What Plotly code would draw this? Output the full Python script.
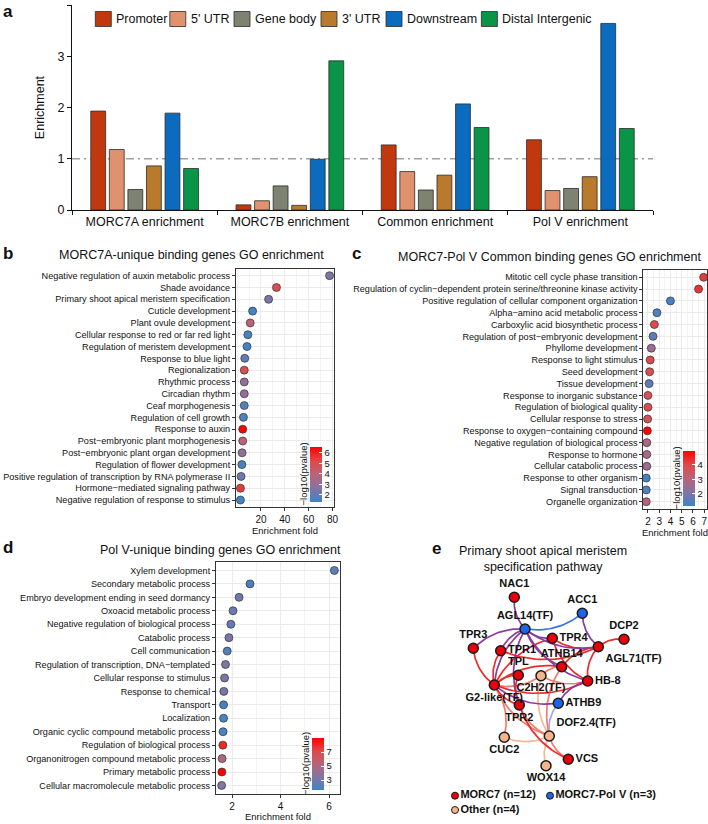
import math
import plotly.graph_objects as go

W, H = 708, 824

# ---------------- DATA ----------------
region_names = ["Promoter", "5' UTR", "Gene body", "3' UTR", "Downstream", "Distal Intergenic"]
region_colors = ["#C1380E", "#E0916E", "#7E8270", "#B97A2E", "#0B6CBF", "#0A9447"]
groups = ["MORC7A enrichment", "MORC7B enrichment", "Common enrichment", "Pol V enrichment"]
promoter = [1.93, 0.10, 1.27, 1.37]
utr5 = [1.18, 0.18, 0.75, 0.38]
gene_body = [0.40, 0.47, 0.39, 0.42]
utr3 = [0.86, 0.09, 0.68, 0.65]
downstream = [1.89, 0.99, 2.07, 3.64]
distal = [0.81, 2.91, 1.61, 1.59]
a_ticks = [0, 1, 2, 3, 4]

b_terms = ["Negative regulation of auxin metabolic process", "Shade avoidance",
           "Primary shoot apical meristem specification", "Cuticle development",
           "Plant ovule development", "Cellular response to red or far red light",
           "Regulation of meristem development", "Response to blue light", "Regionalization",
           "Rhythmic process", "Circadian rhythm", "Ceaf morphogenesis", "Regulation of cell growth",
           "Response to auxin", "Post\u2212embryonic plant morphogenesis",
           "Post\u2212embryonic plant organ development", "Regulation of flower development",
           "Positive regulation of transcription by RNA polymerase II",
           "Hormone\u2212mediated signaling pathway", "Negative regulation of response to stimulus"]
b_fold = [77.5, 33, 26.4, 13, 11, 9, 8.3, 6.4, 6, 6, 6, 6, 5.3, 4.7, 4.7, 4.2, 4.0, 3.3, 2.8, 2.8]
b_logp = [2.6, 5.0, 2.5, 1.5, 4.0, 1.5, 1.4, 2.0, 5.0, 3.0, 3.0, 1.8, 1.6, 6.5, 4.0, 3.0, 1.5, 2.2, 5.5, 1.4]
b_xticks = [20, 40, 60, 80]
b_cticks = [2, 3, 4, 5, 6]

c_terms = ["Mitotic cell cycle phase transition",
           "Regulation of cyclin\u2212dependent protein serine/threonine kinase activity",
           "Positive regulation of cellular component organization",
           "Alpha\u2212amino acid metabolic process", "Carboxylic acid biosynthetic process",
           "Regulation of post\u2212embryonic development", "Phyllome development",
           "Response to light stimulus", "Seed development", "Tissue development",
           "Response to inorganic substance", "Regulation of biological quality",
           "Cellular response to stress", "Response to oxygen\u2212containing compound",
           "Negative regulation of biological process", "Response to hormone",
           "Cellular catabolic process", "Response to other organism", "Signal transduction",
           "Organelle organization"]
c_fold = [6.95, 6.5, 4.0, 2.8, 2.57, 2.45, 2.3, 2.2, 2.15, 2.1, 2.0, 2.0, 1.97, 1.95, 1.9, 1.9, 1.9, 1.85, 1.85, 1.85]
c_logp = [4.2, 4.3, 1.3, 1.4, 4.0, 1.6, 2.6, 4.0, 3.8, 1.6, 3.7, 3.8, 3.7, 4.95, 2.8, 2.8, 2.6, 1.3, 1.5, 3.0]
c_xticks = [2, 3, 4, 5, 6, 7]
c_cticks = [2, 3, 4]

d_terms = ["Xylem development", "Secondary metabolic process",
           "Embryo development ending in seed dormancy", "Oxoacid metabolic process",
           "Negative regulation of biological process", "Catabolic process", "Cell communication",
           "Regulation of transcription, DNA\u2212templated", "Cellular response to stimulus",
           "Response to chemical", "Transport", "Localization",
           "Organic cyclic compound metabolic process", "Regulation of biological process",
           "Organonitrogen compound metabolic process", "Primary metabolic process",
           "Cellular macromolecule metabolic process"]
d_fold = [6.22, 2.74, 2.29, 2.04, 1.95, 1.87, 1.80, 1.73, 1.69, 1.66, 1.65, 1.65, 1.63, 1.62, 1.59, 1.58, 1.57]
d_logp = [2.5, 2.0, 2.8, 2.8, 2.6, 3.2, 2.2, 3.3, 3.2, 3.1, 1.8, 1.8, 1.9, 8.0, 5.0, 9.0, 3.5]
d_xticks = [2, 4, 6]
d_cticks = [3, 5, 7]

net_nodes = ["NAC1", "ACC1", "AGL14(TF)", "TPR3", "TPR1", "TPR4", "DCP2", "AGL71(TF)", "ATHB14",
             "TPL", "C2H2(TF)", "HB-8", "G2-like(TF)", "ATHB9", "TPR2", "DOF2.4(TF)", "CUC2", "VCS", "WOX14"]
net_group = ["MORC7", "Pol V", "Pol V", "MORC7", "MORC7", "MORC7", "MORC7", "MORC7", "MORC7",
             "MORC7", "Other", "MORC7", "MORC7", "Pol V", "MORC7", "Other", "Other", "MORC7", "Other"]
# network layout coordinates
net_x = [514.3, 582.3, 525.0, 473.3, 500.7, 552.3, 624.0, 598.3, 561.7, 518.3, 541.0, 587.7, 494.3,
         558.3, 519.3, 549.3, 504.3, 568.3, 546.0]
net_y = [597.3, 613.3, 629.0, 648.3, 650.7, 638.3, 639.3, 646.7, 666.7, 675.3, 675.7, 681.0, 685.0,
         703.3, 705.0, 736.0, 737.3, 759.3, 765.7]
net_edges = [("NAC1", "AGL14(TF)"), ("AGL14(TF)", "ACC1"), ("ACC1", "AGL71(TF)"),
             ("AGL14(TF)", "TPR3"), ("AGL14(TF)", "TPR1"), ("AGL14(TF)", "TPR4"),
             ("AGL14(TF)", "AGL71(TF)"), ("AGL14(TF)", "HB-8"), ("AGL14(TF)", "TPR2"),
             ("AGL14(TF)", "G2-like(TF)"), ("AGL14(TF)", "ATHB14"),
             ("TPR3", "G2-like(TF)"), ("TPR1", "G2-like(TF)"), ("TPR4", "G2-like(TF)"),
             ("TPR4", "AGL71(TF)"), ("TPR1", "AGL71(TF)"), ("DCP2", "AGL71(TF)"),
             ("AGL71(TF)", "ATHB14"), ("AGL71(TF)", "HB-8"), ("ATHB14", "G2-like(TF)"),
             ("TPL", "G2-like(TF)"), ("TPL", "TPR2"), ("G2-like(TF)", "TPR2"),
             ("G2-like(TF)", "HB-8"), ("G2-like(TF)", "ATHB9"), ("HB-8", "ATHB9"),
             ("TPR4", "HB-8"), ("ATHB14", "C2H2(TF)"), ("G2-like(TF)", "C2H2(TF)"),
             ("C2H2(TF)", "HB-8"), ("TPR2", "DOF2.4(TF)"), ("TPR2", "VCS"),
             ("G2-like(TF)", "DOF2.4(TF)"), ("ATHB14", "DOF2.4(TF)"), ("ATHB9", "DOF2.4(TF)"),
             ("DOF2.4(TF)", "VCS"), ("CUC2", "DOF2.4(TF)"), ("DOF2.4(TF)", "WOX14"),
             ("CUC2", "G2-like(TF)"), ("C2H2(TF)", "DOF2.4(TF)")]
net_label_pos = ["top center", "top center", "top center", "top center", "middle right", "middle right",
                 "top center", "bottom right", "top center", "top center", "bottom center",
                 "middle right", "bottom center", "middle right", "bottom center", "top right",
                 "bottom center", "middle right", "bottom center"]
legend_e = ["MORC7 (n=12)", "MORC7-Pol V (n=3)", "Other (n=4)"]

# ---------------- STYLE ----------------
FONT = "Liberation Sans, Arial, sans-serif"
group_color = {"MORC7": "#E8000B", "Pol V": "#1E64E6", "Other": "#F4B48C"}
edge_color = {("MORC7", "MORC7"): "#EE2A2A", ("MORC7", "Pol V"): "#8E3B9C",
              ("Pol V", "Pol V"): "#3B74E2", ("MORC7", "Other"): "#F27C6C",
              ("Other", "Other"): "#F7B894", ("Other", "Pol V"): "#9FA6E3"}
cscale = [[0, "#3D85C6"], [0.25, "#8474A2"], [0.5, "#B8647A"], [0.75, "#E04848"], [1, "#FF0000"]]


def px(x):
    return x / W


def py(y):
    return 1 - y / H


fig = go.Figure()

# ---------------- PANEL A ----------------
series = [promoter, utr5, gene_body, utr3, downstream, distal]
for name, col, vals in zip(region_names, region_colors, series):
    fig.add_trace(go.Bar(x=groups, y=vals, name=name, marker=dict(color=col, line=dict(color="#2b2b2b", width=0.8)),
                         xaxis="x", yaxis="y", showlegend=False))

fig.add_shape(type="line", xref="x domain", yref="y", x0=0, x1=1, y0=1, y1=1,
              line=dict(color="#A0A0A0", width=1.3, dash="8px,4px,2px,4px"), layer="below")

leg_left = [95.3, 169.8, 234, 321, 386, 481.4]
for name, col, lx in zip(region_names, region_colors, leg_left):
    fig.add_shape(type="rect", xref="paper", yref="paper", x0=px(lx), x1=px(lx + 16), y0=py(26.5), y1=py(11.5),
                  fillcolor=col, line=dict(color="#2b2b2b", width=0.8))
    fig.add_annotation(x=px(lx + 19), y=py(19), xref="paper", yref="paper", text=name, showarrow=False,
                       xanchor="left", yanchor="middle", font=dict(size=12.5, color="#111"))

# ---------------- GO PANELS ----------------
def go_panel(idx, terms, fold, logp, xticks, cticks, dom_x, dom_y, minor_dt, cb):
    xa = "x%d" % idx
    ya = "y%d" % idx
    cmin, cmax = cb[3], cb[4]
    fig.add_trace(go.Scatter(
        x=fold, y=terms, mode="markers", xaxis=xa, yaxis=ya, showlegend=False, cliponaxis=False,
        marker=dict(size=8, color=logp, colorscale=cscale, cmin=cmin, cmax=cmax,
                    line=dict(color="#333", width=0.7),
                    colorbar=dict(x=px(cb[0]), xanchor="left", y=py(cb[1]), yanchor="middle",
                                  len=cb[2], lenmode="pixels", thickness=12, thicknessmode="pixels",
                                  outlinewidth=0, tickvals=cticks, ticks="inside", ticklen=3,
                                  tickcolor="white", tickfont=dict(size=9.5, color="#111"),
                                  xpad=0, ypad=0, bgcolor="rgba(0,0,0,0)"))))
    span = max(fold) - min(fold)
    lo, hi = min(fold) - 0.05 * span, max(fold) + 0.05 * span
    n = len(terms)
    fig.update_layout(**{
        "xaxis%d" % idx: dict(domain=[px(dom_x[0]), px(dom_x[1])], anchor=ya, range=[lo, hi],
                              tickvals=xticks, showgrid=True, gridcolor="#EBEBEB", gridwidth=0.8,
                              minor=dict(dtick=minor_dt, showgrid=True, gridcolor="#F3F3F3", gridwidth=0.6),
                              showline=True, mirror=True, linecolor="#333", linewidth=1,
                              ticks="outside", ticklen=3, tickcolor="#333", zeroline=False,
                              automargin=False, tickfont=dict(size=10, color="#111"),
                              title=dict(text="Enrichment fold", font=dict(size=9.5, color="#111"), standoff=0)),
        "yaxis%d" % idx: dict(domain=[py(dom_y[1]), py(dom_y[0])], anchor=xa, type="category",
                              categoryorder="array", categoryarray=terms, range=[n - 0.4, -0.6],
                              showgrid=True, gridcolor="#EBEBEB", gridwidth=0.8,
                              showline=True, mirror=True, linecolor="#333", linewidth=1,
                              ticks="outside", ticklen=3, tickcolor="#333", automargin=False,
                              tickfont=dict(size=9.1, color="#111")),
    })
    fig.add_shape(type="rect", xref="paper", yref="paper", x0=px(cb[0] - 14), x1=px(cb[0] + 24),
                  y0=py(cb[1] + cb[2] / 2 + 2), y1=py(cb[1] - cb[2] / 2 - 2),
                  fillcolor="white", line=dict(width=0), layer="between")
    fig.add_annotation(x=px(cb[0] - 7), y=py(cb[1]), xref="paper", yref="paper",
                       text="\u2212log10(pvalue)", textangle=-90, showarrow=False,
                       font=dict(size=9.5, color="#111"), xanchor="center", yanchor="middle")


go_panel(2, b_terms, b_fold, b_logp, b_xticks, b_cticks, (236, 334), (268.6, 507.1), 10,
         (310, 474.5, 55, 1.33, 6.57))
go_panel(3, c_terms, c_fold, c_logp, c_xticks, c_cticks, (643.4, 706.5), (270.2, 508.8), 0.5,
         (683, 478.4, 55, 1.17, 4.97))
go_panel(4, d_terms, d_fold, d_logp, d_xticks, d_cticks, (216, 340), (562.4, 793.5), 1,
         (312, 764, 52, 1.6, 9.0))

# ---------------- PANEL E (network) ----------------
pos = {n: (x, y) for n, x, y in zip(net_nodes, net_x, net_y)}
grp = dict(zip(net_nodes, net_group))
edge_traces = {}
for a, b in net_edges:
    key = tuple(sorted((grp[a], grp[b])))
    (x0, y0), (x2, y2) = pos[a], pos[b]
    dx, dy = x2 - x0, y2 - y0
    cx = (x0 + x2) / 2 - dy * 0.22
    cy = (y0 + y2) / 2 + dx * 0.22
    xs, ys = edge_traces.setdefault(key, ([], []))
    for i in range(21):
        t = i / 20
        xs.append((1 - t) ** 2 * x0 + 2 * (1 - t) * t * cx + t ** 2 * x2)
        ys.append((1 - t) ** 2 * y0 + 2 * (1 - t) * t * cy + t ** 2 * y2)
    xs.append(None)
    ys.append(None)
order = [("Other", "Other"), ("Other", "Pol V"), ("MORC7", "Other"), ("MORC7", "MORC7"),
         ("MORC7", "Pol V"), ("Pol V", "Pol V")]
for key in order:
    if key in edge_traces:
        xs, ys = edge_traces[key]
        fig.add_trace(go.Scatter(x=xs, y=ys, mode="lines", line=dict(color=edge_color[key], width=1.7),
                                 xaxis="x5", yaxis="y5", showlegend=False, hoverinfo="skip"))
fig.add_trace(go.Scatter(x=net_x, y=net_y, mode="markers+text", text=net_nodes, textposition=net_label_pos,
                         textfont=dict(size=11, color="#111"),
                         texttemplate="<b>%{text}</b>",
                         marker=dict(size=10, color=[group_color[g] for g in net_group],
                                     line=dict(color="#1a1a1a", width=1.5)),
                         xaxis="x5", yaxis="y5", showlegend=False, cliponaxis=False))
leg_x = [455, 550, 455]
leg_y = [795.7, 795.7, 810]
leg_c = [group_color["MORC7"], group_color["Pol V"], group_color["Other"]]
fig.add_trace(go.Scatter(x=leg_x, y=leg_y, mode="markers+text", text=["<b>%s</b>" % t for t in legend_e],
                         textposition="middle right", textfont=dict(size=11, color="#111"),
                         marker=dict(size=7, color=leg_c, line=dict(color="#1a1a1a", width=1)),
                         xaxis="x5", yaxis="y5", showlegend=False, cliponaxis=False))

fig.update_layout(
    xaxis5=dict(domain=[px(430), 1], range=[430, 708], visible=False, anchor="y5", automargin=False),
    yaxis5=dict(domain=[0, py(575)], range=[824, 575], visible=False, anchor="x5", automargin=False),
)

# ---------------- LAYOUT ----------------
fig.update_layout(
    width=W, height=H, margin=dict(l=0, r=0, t=0, b=0, autoexpand=False),
    paper_bgcolor="white", plot_bgcolor="white",
    font=dict(family=FONT, color="#111"),
    barmode="group", bargap=0.233, bargroupgap=0.2,
    xaxis=dict(domain=[px(72), px(653)], anchor="y", type="category", tickson="boundaries",
               range=[-0.5, 3.5], showline=True, linecolor="#111", linewidth=1, ticks="outside",
               ticklen=4, tickcolor="#111", tickfont=dict(size=12.5, color="#111"), showgrid=False,
               automargin=False),
    yaxis=dict(domain=[py(210), py(5)], anchor="x", range=[0, 4], tickvals=a_ticks, showline=True,
               linecolor="#111", linewidth=1, ticks="outside", ticklen=4, tickcolor="#111",
               tickfont=dict(size=12.5, color="#111"), showgrid=False, zeroline=False, automargin=False,
               title=dict(text="Enrichment", font=dict(size=12.5, color="#111"), standoff=10)),
)

texts = [("a", 8, 12), ("b", 8, 253), ("c", 356, 254), ("d", 8, 547), ("e", 437, 548)]
for t, x, y in texts:
    fig.add_annotation(x=px(x), y=py(y), xref="paper", yref="paper", text="<b>%s</b>" % t, showarrow=False,
                       xanchor="center", yanchor="middle", font=dict(size=17, color="#111"))
titles = [("MORC7A-unique binding genes GO enrichment", 191.7, 255),
          ("MORC7-Pol V Common binding genes GO enrichment", 549.5, 256.7),
          ("Pol V-unique binding genes GO enrichment", 220, 550),
          ("Primary shoot apical meristem<br>specification pathway", 543, 559)]
for t, x, y in titles:
    fig.add_annotation(x=px(x), y=py(y), xref="paper", yref="paper", text=t, showarrow=False,
                       xanchor="center", yanchor="middle", font=dict(size=12.5, color="#111"))

fig.write_html("out.html", config={"displayModeBar": False},
               post_script="document.body.style.margin='0px';document.body.style.padding='0px';")
